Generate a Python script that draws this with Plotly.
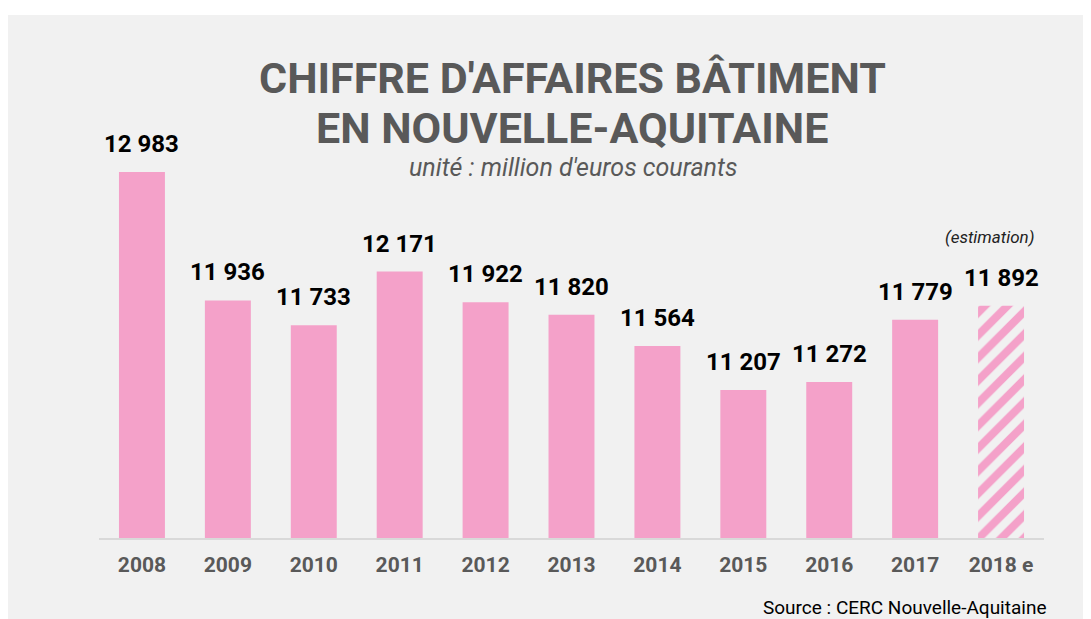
import plotly.graph_objects as go

# Chiffre d'affaires bâtiment en Nouvelle-Aquitaine (million d'euros courants)
years = ['2008', '2009', '2010', '2011', '2012', '2013', '2014', '2015', '2016', '2017', '2018 e']
values = [12983, 11936, 11733, 12171, 11922, 11820, 11564, 11207, 11272, 11779, 11892]
is_estimate = [False] * 10 + [True]

PINK = 'rgb(244,161,201)'
GREY_TEXT = '#595959'
PANEL = '#f1f1f1'
FONT = 'Roboto'

# the page adds an 8px body margin, so the figure is that much smaller
W, H = 1083, 611
L, R, T, B = 91, 47, 7, 81
PW, PH = W - L - R, H - T - B


def px_x(x):
    # figure pixel -> paper x
    return (x - L) / PW


def px_y(y):
    # figure pixel -> paper y
    return (H - B - y) / PH


def fmt(v):
    return f'{v:,}'.replace(',', ' ')


fig = go.Figure()

fig.add_trace(go.Bar(
    x=years,
    y=values,
    width=0.535,
    marker=dict(
        color=[PINK] * len(values),
        line=dict(width=0),
        pattern=dict(
            shape=['/' if e else '' for e in is_estimate],
            fgcolor=PINK,
            bgcolor=['white' if e else PINK for e in is_estimate],
            size=16,
            solidity=0.5,
            fillmode='replace',
        ),
    ),
    hoverinfo='skip',
    showlegend=False,
))

# value labels above the bars
for i, v in enumerate(values):
    fig.add_annotation(
        x=i, y=v, text=fmt(v), showarrow=False,
        yanchor='bottom', yshift=12,
        font=dict(family=FONT, size=24, color='black', weight='bold'),
    )

# titles
title_font = dict(family=FONT, size=43, color=GREY_TEXT, weight='bold')
fig.add_annotation(
    xref='paper', yref='paper', x=px_x(564), y=px_y(70),
    xanchor='center', yanchor='middle',
    text="CHIFFRE D'AFFAIRES BÂTIMENT", showarrow=False, font=title_font,
)
fig.add_annotation(
    xref='paper', yref='paper', x=px_x(564), y=px_y(120),
    xanchor='center', yanchor='middle',
    text='EN NOUVELLE-AQUITAINE', showarrow=False, font=title_font,
)
fig.add_annotation(
    xref='paper', yref='paper', x=px_x(565), y=px_y(160),
    xanchor='center', yanchor='middle',
    text="unité : million d'euros courants", showarrow=False,
    font=dict(family=FONT, size=25, color=GREY_TEXT, style='italic'),
)
fig.add_annotation(
    xref='paper', yref='paper', x=px_x(981), y=px_y(229),
    xanchor='center', yanchor='middle',
    text='(estimation)', showarrow=False,
    font=dict(family=FONT, size=17, color='#222222', style='italic'),
)
fig.add_annotation(
    xref='paper', yref='paper', x=px_x(1040), y=px_y(599),
    xanchor='right', yanchor='middle',
    text='Source : CERC Nouvelle-Aquitaine', showarrow=False,
    font=dict(family=FONT, size=19, color='black'),
)

# grey panel behind the chart
fig.add_shape(
    type='rect', xref='paper', yref='paper', layer='below',
    x0=px_x(0), x1=px_x(W), y0=px_y(H), y1=px_y(7),
    fillcolor=PANEL, line=dict(width=0),
)

fig.update_layout(
    width=W,
    height=H,
    margin=dict(l=L, r=R, t=T, b=B),
    paper_bgcolor='white',
    plot_bgcolor='rgba(0,0,0,0)',
    xaxis=dict(
        type='category',
        range=[-0.5, 10.5],
        showline=True, linecolor='#d9d9d9', linewidth=2,
        showgrid=False, ticks='', ticklabelstandoff=7,
        tickfont=dict(family=FONT, size=21, color=GREY_TEXT, weight='bold'),
    ),
    yaxis=dict(
        range=[10000, 14262],
        visible=False, showgrid=False, zeroline=False,
    ),
)

fig.write_html('out.html')
